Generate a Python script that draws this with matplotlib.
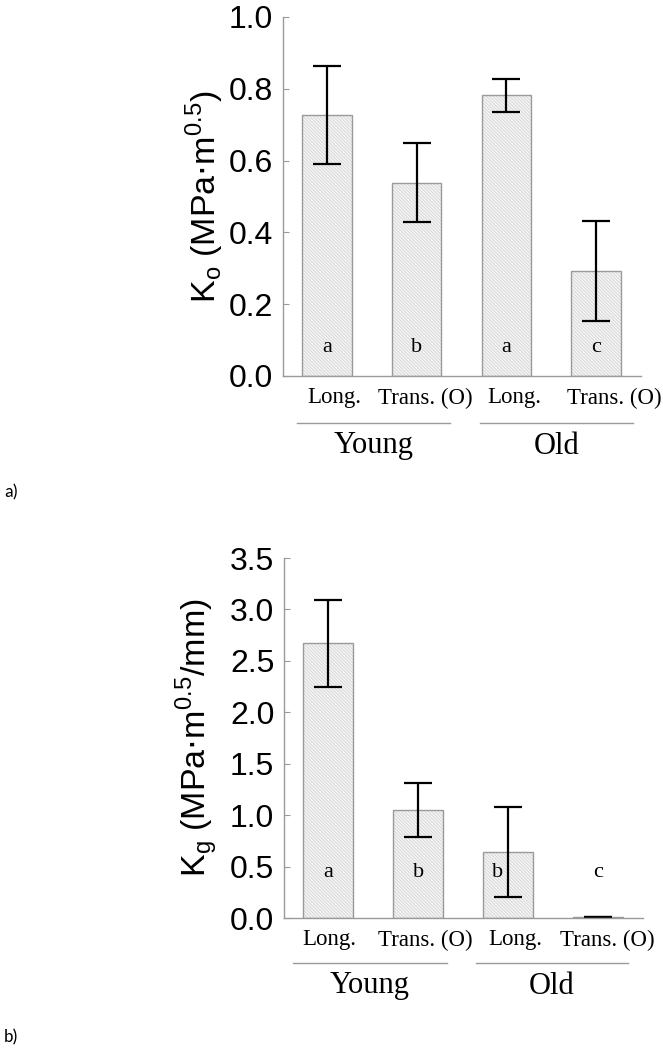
import numpy as np
import matplotlib.pyplot as plt

categories = ['Long.', 'Trans. (O)', 'Long.', 'Trans. (O)']
groups = ['Young', 'Old']

ko_mean = [0.727, 0.538, 0.782, 0.292]
ko_err = [0.136, 0.110, 0.046, 0.140]
ko_letters = ['a', 'b', 'a', 'c']

kg_mean = [2.67, 1.05, 0.64, 0.01]
kg_err = [0.42, 0.26, 0.44, 0.004]
kg_letters = ['a', 'b', 'b', 'c']

SERIF = ['Liberation Serif', 'DejaVu Serif']
SANS = ['Liberation Sans', 'DejaVu Sans']
AXCOL = '#9a9a9a'

plt.rcParams['hatch.color'] = '#cfcfcf'
plt.rcParams['hatch.linewidth'] = 0.5

fig = plt.figure(figsize=(6.63, 10.5), dpi=100)


def draw_panel(ax, means, errs, letters, ylim, yticks, ylabel, letter_y, letter_dx, label_x, tick_shift):
    x = np.arange(len(means))
    ax.bar(x, means, width=0.55, color='#f4f4f4', hatch='\\' * 10, edgecolor='#cfcfcf', linewidth=0)
    ax.bar(x, means, width=0.55, fill=False, edgecolor=AXCOL, linewidth=1.0)
    ax.errorbar(x, means, yerr=errs, fmt='none', ecolor='black', elinewidth=1.6,
                capsize=10, capthick=1.6)
    for xi, lt, dx in zip(x, letters, letter_dx):
        ax.text(xi + dx, letter_y, lt, ha='center', va='center', fontsize=16, family=SERIF)
    ax.set_xlim(-0.49, 3.5)
    ax.set_ylim(*ylim)
    ax.set_yticks(yticks)
    ax.set_yticklabels(['%.1f' % t for t in yticks], family=SANS, fontsize=23)
    ax.set_xticks([])
    # category labels sit a little right of the bar centres in the original
    for xi, cat, dpx in zip(x, categories, tick_shift):
        ax.annotate(cat, xy=(xi, 0), xycoords=('data', 'axes fraction'),
                    xytext=(dpx, -22), textcoords='offset pixels',
                    ha='center', va='center', fontsize=16.5, family=SERIF,
                    annotation_clip=False)
    ax.tick_params(axis='y', direction='in', length=4, color=AXCOL, pad=7)
    for s in ['top', 'right']:
        ax.spines[s].set_visible(False)
    for s in ['left', 'bottom']:
        ax.spines[s].set_color(AXCOL)
        ax.spines[s].set_linewidth(1.0)
    ax.set_ylabel(ylabel, family=SANS, fontsize=24.5)
    ax.yaxis.set_label_coords(label_x, 0.5)
    ax.set_facecolor('none')


def draw_groups(fig, line_y, label_y, spans):
    for (x0, x1), g in zip(spans, groups):
        fig.add_artist(plt.Line2D([x0 / 663, x1 / 663], [1 - line_y / 1050] * 2,
                                  color=AXCOL, lw=1.0))
        fig.text((x0 + x1) / 2 / 663, 1 - label_y / 1050, g, ha='center', va='center',
                 fontsize=22, family=SERIF)


ax1 = fig.add_axes([283 / 663, 1 - 376 / 1050, (641 - 283) / 663, (376 - 17) / 1050])
draw_panel(ax1, ko_mean, ko_err, ko_letters, (0, 1.0), [0.0, 0.2, 0.4, 0.6, 0.8, 1.0],
           r'K$_\mathregular{o}$ (MPa$\cdot$m$^\mathregular{0.5}$)', 0.08, [0, 0, 0, 0], -0.16,
           [7, 9, 8, 18])
draw_groups(fig, 423, 446, [(297, 450), (480, 633)])

ax2 = fig.add_axes([284 / 663, 1 - 918 / 1050, (643 - 284) / 663, (918 - 558) / 1050])
draw_panel(ax2, kg_mean, kg_err, kg_letters, (0, 3.5), [0.0, 0.5, 1.0, 1.5, 2.0, 2.5, 3.0, 3.5],
           r'K$_\mathregular{g}$ (MPa$\cdot$m$^\mathregular{0.5}$/mm)', 0.44, [0, 0, -0.12, 0], -0.18,
           [1, 7, 7, 9])
draw_groups(fig, 963, 986, [(293, 447), (476, 628)])

fig.text(4 / 663, 1 - 492 / 1050, 'a)', fontsize=13, va='center', family=['Carlito', 'Open Sans', 'DejaVu Sans'])
fig.text(4 / 663, 1 - 1037 / 1050, 'b)', fontsize=13, va='center', family=['Carlito', 'Open Sans', 'DejaVu Sans'])

fig.savefig('out.png', dpi=100)
